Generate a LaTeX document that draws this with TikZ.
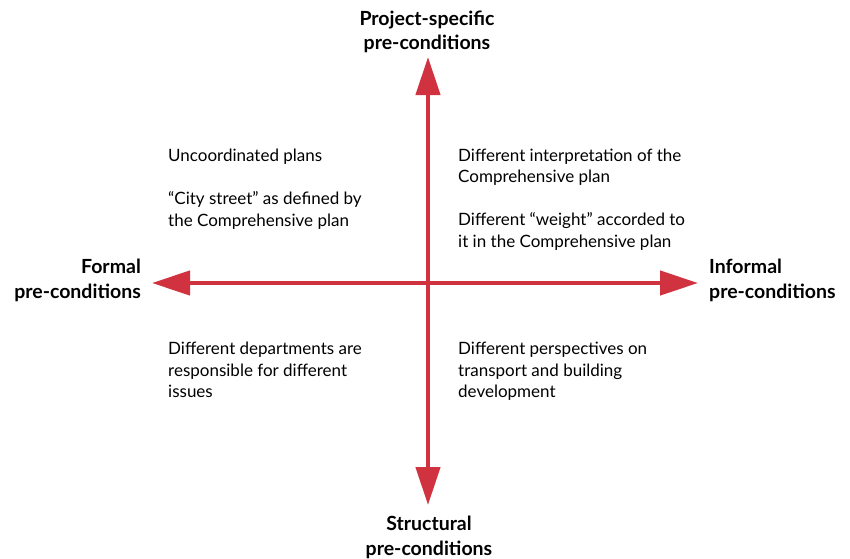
\documentclass[tikz,border=0pt]{standalone}
\usepackage{fontspec}
\setmainfont{Lato}
\usetikzlibrary{arrows.meta}
\definecolor{axisred}{RGB}{208,50,64}
\begin{document}
\begin{tikzpicture}[x=1pt,y=-1pt,
  axis/.style={draw=axisred, line width=4.5pt,
    {Triangle[length=38pt,width=24pt]}-{Triangle[length=38pt,width=24pt]}},
  pole/.style={font=\fontsize{19.5}{24.5}\selectfont\bfseries, inner sep=0pt},
  note/.style={font=\fontsize{17}{21.5}\selectfont, inner sep=0pt, align=left, anchor=base west}]
\useasboundingbox (0,0) rectangle (850,558);

% axis end points
\coordinate (north) at (428,57);
\coordinate (south) at (428,505);
\coordinate (west) at (152,283);
\coordinate (east) at (698,283);

\draw[axis] (west) -- (east);
\draw[axis] (north) -- (south);

% pole labels (anchored on the baseline of their last line)
\node[pole, align=center, anchor=base] (ptop) at (427,49.5) {Project-specific\\pre-conditions};
\node[pole, align=center, anchor=base] (pbot) at (429,555) {Structural\\pre-conditions};
\node[pole, align=right, anchor=base east] (pleft) at (141,298) {Formal\\pre-conditions};
\node[pole, align=left, anchor=base west] (pright) at (709,298) {Informal\\pre-conditions};

% quadrant notes (anchored on the baseline of their last line)
\node[note] (q1) at (168,226) {Uncoordinated plans\\[21.5pt]\textquotedblleft City street\textquotedblright\ as defined by\\the Comprehensive plan};
\node[note] (q2) at (458,247) {Different interpretation of the\\Comprehensive plan\\[21.5pt]Different \textquotedblleft weight\textquotedblright\ accorded to\\it in the Comprehensive plan};
\node[note] (q3) at (168,397.5) {Different departments are\\responsible for different\\issues};
\node[note] (q4) at (458,397.5) {Different perspectives on\\transport and building\\development};
\end{tikzpicture}
\end{document}
